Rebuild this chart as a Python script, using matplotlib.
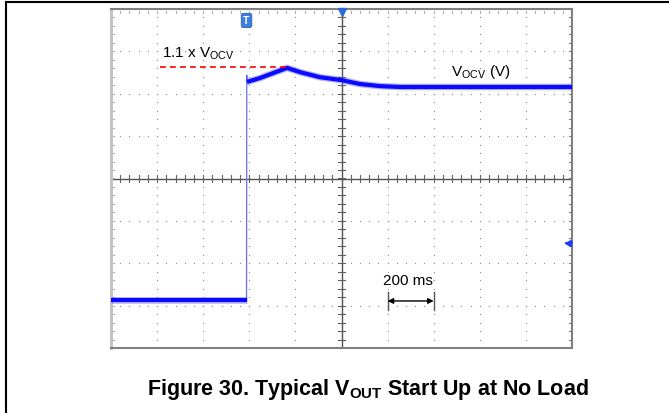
import numpy as np
import matplotlib
matplotlib.use('Agg')
import matplotlib.pyplot as plt
from matplotlib.lines import Line2D

plt.rcParams['font.family'] = ['Liberation Sans', 'DejaVu Sans']
plt.rcParams['mathtext.fontset'] = 'custom'
plt.rcParams['mathtext.rm'] = 'Liberation Sans'
plt.rcParams['mathtext.bf'] = 'Liberation Sans:bold'

# scope trace: time in ms (200 ms/div), level in divisions
t_low = [-1000, -412]
v_low = [-2.87, -2.87]
t_edge = [-412, -411, -410]
v_edge = [-2.87, 2.44, 2.28]
t_high = [-410, -397, -354, -310, -236, -180, -93, 2, 80, 167, 254, 1000]
v_high = [2.28, 2.30, 2.37, 2.46, 2.61, 2.51, 2.39, 2.32, 2.23, 2.18, 2.16, 2.16]

# 1.1 x Vocv reference line
t_ref = [-787, -236]
v_ref = [2.63, 2.63]

# 200 ms scale marker
t_scale = [200, 400]
v_scale = -2.89

fig = plt.figure(figsize=(6.69, 4.14), dpi=100)
ax = fig.add_axes([111/669, 1-349/414, 461/669, 339/414])
ax.set_xlim(-1000, 1000)
ax.set_ylim(-4, 4)
ax.set_xticks([])
ax.set_yticks([])
for s in ['top', 'bottom', 'right']:
    ax.spines[s].set_color('#808080')
    ax.spines[s].set_linewidth(1.5)
ax.spines['left'].set_color('#c4c4c4')
ax.spines['left'].set_linewidth(2.2)

# graticule dots
dot_y = np.arange(-4, 4.01, 0.2)
for gx in [-800, -600, -400, -200, 200, 400, 600, 800]:
    ax.scatter([gx]*len(dot_y), dot_y, s=0.8, color='#8a8a8a', lw=0, zorder=1)
dot_x = np.arange(-1000, 1000.1, 40)
for gy in [-3, -2, -1, 1, 2, 3]:
    ax.scatter(dot_x, [gy]*len(dot_x), s=0.8, color='#8a8a8a', lw=0, zorder=1)

# center crosshair with ticks
ax.axhline(0, color='#505050', lw=1, zorder=1)
ax.axvline(0, color='#505050', lw=1, zorder=1)
for tx in np.arange(-1000, 1000.1, 40):
    ax.plot([tx, tx], [-0.08, 0.08], color='#606060', lw=0.8, zorder=1)
    ax.plot([tx, tx], [3.96, 3.9], color='#b0b0b0', lw=0.8, zorder=1)
for ty in np.arange(-4, 4.01, 0.2):
    ax.plot([-14, 14], [ty, ty], color='#606060', lw=0.8, zorder=1)
    ax.plot([-996, -988], [ty, ty], color='#b0b0b0', lw=0.8, zorder=1)
    ax.plot([1000, 988], [ty, ty], color='#808080', lw=0.8, zorder=1)

# trace
ax.plot(t_edge, v_edge, color='#6b6bff', lw=0.9, zorder=3)
for tt, vv in [(t_low, v_low), (t_high, v_high)]:
    ax.plot(tt, vv, color='#4a4aff', lw=4.8, alpha=0.4, zorder=3, solid_capstyle='butt')
    ax.plot(tt, vv, color='#0a0aff', lw=3.0, zorder=4, solid_capstyle='butt')

ax.plot(t_ref, v_ref, color='#ff0000', lw=1.2, ls=(0, (3.5, 2.5)), zorder=5)

ax.text(-779, 2.89, r'1.1 x V$_{\rm OCV}$', fontsize=11, ha='left', va='baseline')
ax.text(475, 2.44, r'V$_{\rm OCV}$ (V)', fontsize=11, ha='left', va='baseline')
ax.text(180, -2.49, '200 ms', fontsize=11, ha='left', va='baseline')
ax.annotate('', xy=(t_scale[1], v_scale), xytext=(t_scale[0], v_scale),
            arrowprops=dict(arrowstyle='<|-|>', color='black', lw=1.0,
                            mutation_scale=8, shrinkA=0, shrinkB=0))
for tx in t_scale:
    ax.plot([tx, tx], [-2.68, -3.10], color='#555555', lw=1.0)

# scope markers
ax.text(-412, 3.73, 'T', fontsize=7.5, color='white', fontweight='bold',
        ha='center', va='center',
        bbox=dict(boxstyle='round,pad=0.2', fc='#3d7fe0', ec='#2a5fb0', lw=0.6))
ax.plot([0], [3.93], marker='v', color='#2a6ad5', ms=6, clip_on=False, zorder=6)
ax.plot([983], [-1.52], marker='<', color='#1a3aff', ms=4.5, clip_on=False, zorder=6)
ax.plot([975, 1000], [-1.52, -1.52], color='#1a3aff', lw=1.2, clip_on=False, zorder=6)

# page frame
fig.add_artist(Line2D([6/669, 1], [1-3/414, 1-3/414], transform=fig.transFigure, color='black', lw=1.5))
fig.add_artist(Line2D([6.5/669, 6.5/669], [0, 1-3/414], transform=fig.transFigure, color='black', lw=1.5))

fig.text(367.5/669, 1-395/414, r'Figure 30. Typical V$_{\mathbf{OUT}}$ Start Up at No Load',
         fontsize=15.5, fontweight='bold', ha='center', va='baseline')

fig.savefig('out.png', dpi=100)
